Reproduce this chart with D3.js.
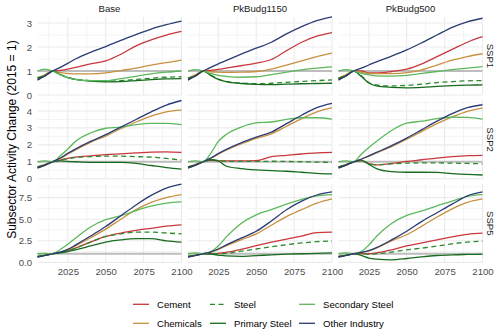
<!DOCTYPE html>
<html>
<head>
<meta charset="utf-8">
<script src="https://cdnjs.cloudflare.com/ajax/libs/d3/7.8.5/d3.min.js"></script>
<style>
body { margin: 0; background: #fff; }
svg { display: block; font-family: "Liberation Sans", Arial, sans-serif; }
</style>
</head>
<body>
<div id="chart"></div>
<script>
// Subsector activity change, facets: SSP (rows) x scenario (cols)

var years = [2005, 2010, 2015, 2020, 2025, 2030, 2040, 2050, 2060, 2070, 2080, 2090, 2100];
var scenarios = ["Base", "PkBudg1150", "PkBudg500"];
var ssps = ["SSP1", "SSP2", "SSP5"];
var sectors = ["Cement", "Chemicals", "Steel", "Primary Steel", "Secondary Steel", "Other Industry"];
var sectorColors = ["#c9383d", "#c8903f", "#2a8a2a", "#176b1e", "#5cb85c", "#2b3b73"];

var xTicks = [2025, 2050, 2075, 2100];
var yTicks = [[0, 1, 2, 3], [0, 1, 2, 3, 4], [0, 2.5, 5, 7.5]];
var yFormats = ["d", "d", ".1f"];

// each panel: one array per sector, in the order of `sectors`
var ssp1_base = [
  [0.65, 0.8, 1.0, 1.03, 1.08, 1.15, 1.3, 1.42, 1.7, 2.05, 2.3, 2.5, 2.65],
  [0.7, 0.85, 1.0, 0.93, 0.9, 0.88, 0.88, 0.92, 1.02, 1.12, 1.25, 1.35, 1.45],
  [0.72, 0.82, 1.0, 0.85, 0.73, 0.66, 0.6, 0.57, 0.6, 0.65, 0.7, 0.74, 0.76],
  [0.7, 0.8, 1.0, 0.85, 0.72, 0.65, 0.58, 0.55, 0.56, 0.6, 0.64, 0.67, 0.68],
  [1.0, 1.08, 1.0, 0.85, 0.72, 0.65, 0.6, 0.6, 0.68, 0.78, 0.88, 0.95, 1.0],
  [0.62, 0.8, 1.0, 1.15, 1.32, 1.5, 1.78, 2.02, 2.28, 2.52, 2.75, 2.93, 3.08]
];
var ssp1_pk1150 = [
  [0.65, 0.8, 1.0, 1.03, 1.07, 1.12, 1.22, 1.33, 1.48, 1.85, 2.2, 2.45, 2.6],
  [0.7, 0.85, 1.0, 0.97, 0.95, 0.94, 0.95, 0.98, 1.08, 1.25, 1.42, 1.6, 1.75],
  [0.7, 0.8, 1.0, 0.83, 0.66, 0.57, 0.5, 0.47, 0.49, 0.53, 0.57, 0.6, 0.63],
  [0.68, 0.8, 1.0, 0.82, 0.65, 0.56, 0.48, 0.44, 0.43, 0.45, 0.47, 0.48, 0.49],
  [1.0, 1.06, 1.0, 0.9, 0.82, 0.78, 0.74, 0.76, 0.85, 0.95, 1.05, 1.12, 1.17],
  [0.62, 0.8, 1.0, 1.15, 1.3, 1.43, 1.7, 1.95, 2.2, 2.55, 2.85, 3.1, 3.26]
];
var ssp1_pk500 = [
  [0.65, 0.8, 1.0, 1.0, 0.92, 0.92, 0.98, 1.08, 1.3, 1.6, 1.9, 2.2, 2.43],
  [0.7, 0.85, 1.0, 0.95, 0.9, 0.89, 0.89, 0.93, 1.05, 1.25, 1.45, 1.6, 1.72],
  [0.7, 0.8, 1.0, 0.8, 0.52, 0.42, 0.38, 0.4, 0.45, 0.52, 0.56, 0.59, 0.6],
  [0.68, 0.8, 1.0, 0.78, 0.5, 0.38, 0.32, 0.3, 0.32, 0.36, 0.39, 0.41, 0.42],
  [1.0, 1.06, 1.0, 0.9, 0.85, 0.8, 0.79, 0.82, 0.9, 0.98, 1.06, 1.12, 1.18],
  [0.62, 0.8, 1.0, 1.12, 1.25, 1.38, 1.62, 1.88, 2.18, 2.5, 2.82, 3.05, 3.2]
];
var ssp2_base = [
  [0.65, 0.8, 1.0, 1.1, 1.2, 1.27, 1.35, 1.42, 1.47, 1.52, 1.57, 1.58, 1.55],
  [0.7, 0.85, 1.0, 1.2, 1.45, 1.7, 2.15, 2.52, 2.95, 3.35, 3.7, 3.95, 4.05],
  [0.7, 0.82, 1.0, 1.1, 1.18, 1.25, 1.3, 1.33, 1.33, 1.3, 1.27, 1.2, 1.1],
  [0.68, 0.82, 1.0, 1.05, 1.02, 1.0, 0.97, 0.97, 0.96, 0.9, 0.78, 0.66, 0.57],
  [1.0, 1.05, 1.0, 1.35, 1.75, 2.2, 2.7, 2.98, 3.05, 3.2, 3.27, 3.27, 3.2],
  [0.62, 0.8, 1.0, 1.22, 1.5, 1.75, 2.2, 2.6, 3.05, 3.5, 3.95, 4.35, 4.62]
];
var ssp2_pk1150 = [
  [0.65, 0.8, 1.0, 1.08, 1.05, 1.05, 1.05, 1.07, 1.3, 1.38, 1.46, 1.53, 1.56],
  [0.7, 0.85, 1.0, 1.2, 1.45, 1.68, 2.05, 2.38, 2.65, 3.1, 3.55, 3.95, 4.2],
  [0.7, 0.82, 1.0, 1.1, 1.08, 1.03, 1.02, 1.02, 1.03, 1.02, 1.0, 0.98, 0.96],
  [0.68, 0.82, 1.0, 1.12, 1.05, 0.75, 0.6, 0.52, 0.48, 0.44, 0.38, 0.32, 0.28],
  [1.0, 1.05, 1.0, 1.5, 2.2, 2.6, 3.05, 3.3, 3.35, 3.5, 3.6, 3.6, 3.52],
  [0.62, 0.8, 1.0, 1.22, 1.48, 1.72, 2.12, 2.45, 2.75, 3.25, 3.75, 4.2, 4.45]
];
var ssp2_pk500 = [
  [0.65, 0.8, 1.0, 1.05, 0.9, 0.82, 0.9, 1.02, 1.12, 1.22, 1.3, 1.36, 1.38],
  [0.7, 0.85, 1.0, 1.15, 1.33, 1.52, 1.9, 2.33, 2.8, 3.25, 3.65, 3.98, 4.17],
  [0.7, 0.82, 1.0, 1.05, 0.9, 0.82, 0.88, 0.92, 0.93, 0.93, 0.92, 0.9, 0.88],
  [0.68, 0.82, 1.0, 1.1, 0.85, 0.6, 0.42, 0.38, 0.38, 0.37, 0.3, 0.25, 0.22],
  [1.0, 1.05, 1.0, 1.45, 1.85, 2.2, 2.85, 3.28, 3.4, 3.55, 3.63, 3.62, 3.52],
  [0.62, 0.8, 1.0, 1.15, 1.35, 1.55, 1.95, 2.4, 2.9, 3.4, 3.85, 4.2, 4.37]
];
var ssp5_base = [
  [0.65, 0.8, 1.0, 1.15, 1.35, 1.65, 2.35, 3.0, 3.4, 3.7, 3.95, 4.2, 4.35],
  [0.7, 0.85, 1.0, 1.2, 1.45, 1.9, 2.85, 3.85, 5.0, 6.1, 6.95, 7.5, 7.85],
  [0.7, 0.82, 1.0, 1.15, 1.35, 1.65, 2.35, 3.0, 3.3, 3.5, 3.5, 3.4, 3.3],
  [0.68, 0.82, 1.0, 1.1, 1.25, 1.45, 1.9, 2.35, 2.6, 2.75, 2.75, 2.5, 2.35],
  [1.0, 1.05, 1.0, 1.5, 2.1, 2.8, 4.1, 4.95, 5.4, 6.0, 6.5, 6.85, 7.0],
  [0.6, 0.8, 1.0, 1.2, 1.5, 2.0, 3.05, 4.15, 5.4, 6.65, 7.75, 8.6, 9.05]
];
var ssp5_pk1150 = [
  [0.65, 0.8, 1.0, 1.02, 1.05, 1.15, 1.5, 1.95, 2.35, 2.7, 3.05, 3.45, 3.5],
  [0.7, 0.85, 1.0, 1.2, 1.5, 1.9, 2.6, 3.3, 4.3, 5.3, 6.1, 6.85, 7.35],
  [0.7, 0.82, 1.0, 1.0, 1.0, 1.05, 1.3, 1.55, 1.8, 2.05, 2.25, 2.4, 2.48],
  [0.68, 0.82, 1.0, 0.95, 0.85, 0.75, 0.7, 0.78, 0.88, 0.95, 1.0, 1.05, 1.1],
  [1.0, 1.1, 1.0, 1.25, 1.9, 2.9, 4.5, 5.5, 6.1, 6.75, 7.3, 7.7, 7.85],
  [0.6, 0.8, 1.0, 1.2, 1.55, 2.0, 2.8, 3.6, 4.8, 6.1, 7.1, 7.8, 8.15]
];
var ssp5_pk500 = [
  [0.65, 0.8, 1.0, 1.02, 1.0, 1.1, 1.45, 1.9, 2.25, 2.6, 2.95, 3.25, 3.38],
  [0.7, 0.85, 1.0, 1.15, 1.33, 1.65, 2.5, 3.2, 4.2, 5.25, 6.2, 6.95, 7.35],
  [0.7, 0.82, 1.0, 1.0, 0.95, 1.0, 1.2, 1.45, 1.65, 1.9, 2.15, 2.35, 2.45],
  [0.68, 0.82, 1.0, 0.8, 0.5, 0.38, 0.3, 0.45, 0.65, 0.8, 0.88, 0.92, 0.95],
  [1.0, 1.1, 1.0, 1.25, 2.0, 3.0, 4.5, 5.45, 5.95, 6.55, 7.1, 7.65, 7.85],
  [0.6, 0.8, 1.0, 1.15, 1.35, 1.7, 2.6, 3.6, 4.75, 5.75, 6.75, 7.7, 8.15]
];

var panels = [
  [ssp1_base, ssp1_pk1150, ssp1_pk500],
  [ssp2_base, ssp2_pk1150, ssp2_pk500],
  [ssp5_base, ssp5_pk1150, ssp5_pk500]
];

var svgWidth = 500;
var svgHeight = 333;
var margin = {top: 16.8, right: 17.5, bottom: 70.6, left: 37.5};
var gapX = 6.5, gapY = 5.5;
var panelW = (svgWidth - margin.left - margin.right - 2 * gapX) / 3;
var panelH = (svgHeight - margin.top - margin.bottom - 2 * gapY) / 3;

var gridColor = "#ebebeb";
var axisTextColor = "#4d4d4d";
var fontSize = 9.6;

var svg = d3.select("#chart")
  .append("svg")
  .attr("width", svgWidth)
  .attr("height", svgHeight);

var xScale = d3.scaleLinear()
  .domain([years[0], years[years.length - 1]])
  .range([0, panelW]);

var xMinor = xTicks.map(function(t) { return t - 12.5; });

var line = d3.line()
  .x(function(d) { return xScale(d[0]); })
  .y(function(d) { return d[1]; })
  .curve(d3.curveMonotoneX);

panels.forEach(function(row, r) {
  var yMax = d3.max(row, function(p) { return d3.max(p, function(s) { return d3.max(s); }); });
  var yScale = d3.scaleLinear().domain([0, yMax]).range([panelH, 0]);
  var step = yTicks[r][1] - yTicks[r][0];
  var yMinor = yTicks[r].map(function(t) { return t + step / 2; }).filter(function(v) { return v <= yMax; });

  row.forEach(function(panel, c) {
    var px = margin.left + c * (panelW + gapX);
    var py = margin.top + r * (panelH + gapY);
    var g = svg.append("g").attr("transform", "translate(" + px + "," + py + ")");

    // grid
    g.selectAll(".ymin").data(yMinor).enter().append("line")
      .attr("x1", 0).attr("x2", panelW)
      .attr("y1", function(d) { return yScale(d); }).attr("y2", function(d) { return yScale(d); })
      .attr("stroke", gridColor).attr("stroke-width", 0.55);
    g.selectAll(".xmin").data(xMinor).enter().append("line")
      .attr("y1", 0).attr("y2", panelH)
      .attr("x1", function(d) { return xScale(d); }).attr("x2", function(d) { return xScale(d); })
      .attr("stroke", gridColor).attr("stroke-width", 0.55);
    g.selectAll(".ymaj").data(yTicks[r]).enter().append("line")
      .attr("x1", 0).attr("x2", panelW)
      .attr("y1", function(d) { return yScale(d); }).attr("y2", function(d) { return yScale(d); })
      .attr("stroke", gridColor).attr("stroke-width", 1.1);
    g.selectAll(".xmaj").data(xTicks).enter().append("line")
      .attr("y1", 0).attr("y2", panelH)
      .attr("x1", function(d) { return xScale(d); }).attr("x2", function(d) { return xScale(d); })
      .attr("stroke", gridColor).attr("stroke-width", 1.1);

    // reference line at 1
    g.append("line")
      .attr("x1", 0).attr("x2", panelW)
      .attr("y1", yScale(1)).attr("y2", yScale(1))
      .attr("stroke", "#bdbdbd").attr("stroke-width", 2.2);

    panel.forEach(function(vals, s) {
      var pts = vals.map(function(v, i) { return [years[i], yScale(v)]; });
      g.append("path")
        .attr("d", line(pts))
        .attr("fill", "none")
        .attr("stroke", sectorColors[s])
        .attr("stroke-width", 1.3)
        .attr("stroke-dasharray", sectors[s] == "Steel" ? "5,3.5" : null);
    });

    // y axis on first column
    if (c == 0) {
      var ya = g.append("g")
        .call(d3.axisLeft(yScale).tickValues(yTicks[r]).tickFormat(d3.format(yFormats[r])).tickSize(0).tickPadding(5.5));
      ya.select(".domain").remove();
      ya.selectAll("text").attr("fill", axisTextColor).attr("font-size", fontSize).attr("font-family", null);
    }
    // x axis on bottom row
    if (r == panels.length - 1) {
      var xa = g.append("g")
        .attr("transform", "translate(0," + panelH + ")")
        .call(d3.axisBottom(xScale).tickValues(xTicks).tickFormat(d3.format("d")).tickSize(0).tickPadding(6));
      xa.select(".domain").remove();
      xa.selectAll("text").attr("fill", axisTextColor).attr("font-size", fontSize).attr("font-family", null);
    }
    // column strip
    if (r == 0) {
      g.append("text")
        .attr("x", panelW / 2).attr("y", -4.8)
        .attr("text-anchor", "middle")
        .attr("font-size", fontSize).attr("fill", "#1a1a1a")
        .text(scenarios[c]);
    }
    // row strip
    if (c == row.length - 1) {
      g.append("text")
        .attr("transform", "translate(" + (panelW + 7.8) + "," + (panelH / 2) + ") rotate(90)")
        .attr("text-anchor", "middle")
        .attr("dy", "0.35em")
        .attr("font-size", fontSize).attr("fill", "#1a1a1a")
        .text(ssps[r]);
    }
  });
});

// y axis title
svg.append("text")
  .attr("transform", "translate(12," + (margin.top + (svgHeight - margin.top - margin.bottom) / 2) + ") rotate(-90)")
  .attr("text-anchor", "middle")
  .attr("dy", "0.35em")
  .attr("font-size", 12)
  .attr("fill", "#000")
  .text("Subsector Activity Change (2015 = 1)");

// legend, filled column by column
var legendX = [133, 210, 299];
var legendY = [304.3, 323.3];
var legend = svg.append("g");
sectors.forEach(function(name, i) {
  var lx = legendX[Math.floor(i / 2)];
  var ly = legendY[i % 2];
  legend.append("line")
    .attr("x1", lx).attr("x2", lx + 16)
    .attr("y1", ly).attr("y2", ly)
    .attr("stroke", sectorColors[i])
    .attr("stroke-width", 1.3)
    .attr("stroke-dasharray", name == "Steel" ? "5,3.5" : null);
  legend.append("text")
    .attr("x", lx + 24).attr("y", ly)
    .attr("dy", "0.35em")
    .attr("font-size", fontSize)
    .attr("fill", "#000")
    .text(name);
});
</script>
</body>
</html>
